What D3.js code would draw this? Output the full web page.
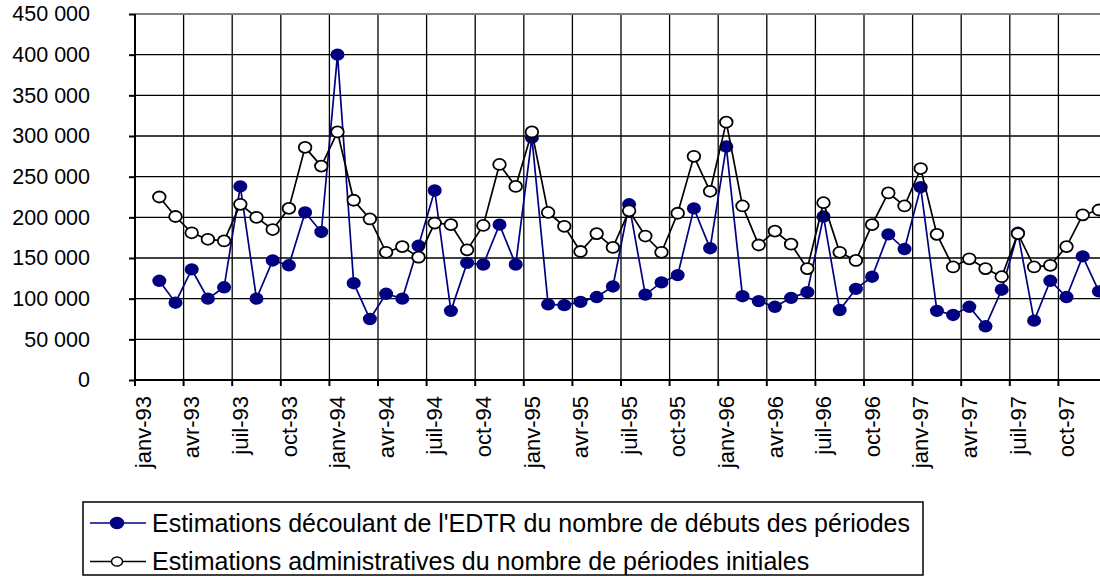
<!DOCTYPE html>
<html>
<head>
<meta charset="utf-8">
<script src="https://cdn.jsdelivr.net/npm/d3@7"></script>
<style>
  body { margin: 0; background: #fff; }
  svg { display: block; font-family: "Liberation Sans", Arial, sans-serif; }
  .grid line { stroke: #000; stroke-width: 1.3; }
</style>
</head>
<body>
<div id="chart"></div>
<script>
const years = ['93', '94', '95', '96', '97'];
const monthNames = ['janv', 'févr', 'mars', 'avr', 'mai', 'juin', 'juil', 'août', 'sept', 'oct', 'nov', 'déc'];
const categories = years.flatMap(y => monthNames.map(m => `${m}-${y}`));
const tickLabels = categories.filter((c, i) => i % 3 === 0);

// EDTR estimates (janv-93 has no value)
const edtrValues = [
  null, 122000, 95000, 136000, 100000, 114000, 238000, 100000, 147000, 141000, 206000, 182000,
  400000, 119000, 75000, 106000, 100000, 165000, 233000, 85000, 144000, 142000, 191000, 142000,
  298000, 93000, 92000, 96000, 102000, 115000, 216000, 105000, 120000, 129000, 211000, 162000,
  287000, 103000, 97000, 90000, 101000, 108000, 201000, 86000, 112000, 127000, 179000, 161000,
  237000, 85000, 80000, 90000, 66000, 111000, 181000, 73000, 122000, 102000, 152000, 109000
];
// administrative estimates
const adminValues = [
  null, 225000, 201000, 181000, 173000, 171000, 216000, 200000, 185000, 211000, 286000, 263000,
  305000, 221000, 198000, 157000, 164000, 151000, 193000, 191000, 160000, 190000, 265000, 238000,
  305000, 206000, 189000, 158000, 180000, 163000, 208000, 177000, 157000, 205000, 275000, 232000,
  317000, 214000, 166000, 183000, 167000, 137000, 218000, 157000, 147000, 191000, 230000, 214000,
  260000, 179000, 139000, 149000, 137000, 127000, 180000, 139000, 141000, 164000, 203000, 209000
];
const yTicks = [0, 50000, 100000, 150000, 200000, 250000, 300000, 350000, 400000, 450000];
const seriesNames = [
  "Estimations découlant de l'EDTR du nombre de débuts des périodes",
  "Estimations administratives du nombre de périodes initiales"
];

const W = 1100, H = 577;
const plot = { left: 135, top: 14, bottom: 380, right: 1107 };

const svg = d3.select('#chart').append('svg')
  .attr('width', W)
  .attr('height', H);

const x = d3.scaleBand()
  .domain(categories)
  .range([plot.left, plot.right]);
const cx = c => x(c) + x.bandwidth() / 2;

const y = d3.scaleLinear()
  .domain([0, 450000])
  .range([plot.bottom, plot.top]);

const fmt = v => d3.format(',')(v).replace(/,/g, ' ');

// horizontal gridlines
svg.append('g')
  .attr('class', 'grid')
  .selectAll('line')
  .data(yTicks.filter(v => v > 0 && v < 450000))
  .join('line')
  .attr('x1', plot.left).attr('x2', W)
  .attr('y1', d => y(d)).attr('y2', d => y(d));

// vertical gridlines every quarter
svg.append('g')
  .attr('class', 'grid')
  .selectAll('line')
  .data(tickLabels.slice(1))
  .join('line')
  .attr('x1', d => x(d)).attr('x2', d => x(d))
  .attr('y1', plot.top).attr('y2', plot.bottom);

// top border
svg.append('line')
  .attr('x1', plot.left).attr('x2', W)
  .attr('y1', y(450000)).attr('y2', y(450000))
  .attr('stroke', '#808080').attr('stroke-width', 2);

// y axis
const yAxis = svg.append('g')
  .attr('transform', `translate(${plot.left},0)`)
  .call(d3.axisLeft(y).tickValues(yTicks).tickFormat(fmt).tickSize(6).tickPadding(39));
yAxis.select('.domain').attr('stroke', '#000').attr('stroke-width', 2).attr('d', `M0,${plot.top}V${plot.bottom}`);
yAxis.selectAll('.tick line').attr('stroke', '#000').attr('stroke-width', 2);
yAxis.selectAll('.tick text')
  .attr('font-size', 21.5)
  .attr('font-family', '"Liberation Sans", Arial, sans-serif')
  .attr('fill', '#000');

// x axis
const xAxis = svg.append('g')
  .attr('transform', `translate(0,${plot.bottom})`);
xAxis.append('line')
  .attr('x1', plot.left).attr('x2', W)
  .attr('stroke', '#000').attr('stroke-width', 2);
xAxis.selectAll('.xtick')
  .data(tickLabels)
  .join('line')
  .attr('x1', d => x(d)).attr('x2', d => x(d))
  .attr('y1', 0).attr('y2', 6)
  .attr('stroke', '#000').attr('stroke-width', 2);
xAxis.selectAll('.xlabel')
  .data(tickLabels)
  .join('text')
  .attr('transform', d => `translate(${cx(d)},16) rotate(-90)`)
  .attr('text-anchor', 'end')
  .attr('dy', '0.35em')
  .attr('font-size', 22)
  .attr('fill', '#000')
  .text(d => d);

// series
const lineGen = d3.line()
  .defined(d => d.v != null)
  .x(d => cx(d.c))
  .y(d => y(d.v));

const edtr = categories.map((c, i) => ({ c, v: edtrValues[i] }));
const admin = categories.map((c, i) => ({ c, v: adminValues[i] }));

svg.append('path')
  .datum(edtr)
  .attr('d', lineGen)
  .attr('fill', 'none')
  .attr('stroke', '#000080')
  .attr('stroke-width', 1.7);
svg.append('g')
  .selectAll('ellipse')
  .data(edtr.filter(d => d.v != null))
  .join('ellipse')
  .attr('cx', d => cx(d.c))
  .attr('cy', d => y(d.v))
  .attr('rx', 7)
  .attr('ry', 6.2)
  .attr('fill', '#000080');

svg.append('path')
  .datum(admin)
  .attr('d', lineGen)
  .attr('fill', 'none')
  .attr('stroke', '#000')
  .attr('stroke-width', 1.7);
svg.append('g')
  .selectAll('ellipse')
  .data(admin.filter(d => d.v != null))
  .join('ellipse')
  .attr('cx', d => cx(d.c))
  .attr('cy', d => y(d.v))
  .attr('rx', 6.3)
  .attr('ry', 5.5)
  .attr('fill', '#fff')
  .attr('stroke', '#000')
  .attr('stroke-width', 1.8);

// legend
const legend = svg.append('g');
legend.append('rect')
  .attr('x', 83).attr('y', 502)
  .attr('width', 840).attr('height', 73)
  .attr('fill', '#fff')
  .attr('stroke', '#000').attr('stroke-width', 1.5);

const legendItems = [
  { name: seriesNames[0], color: '#000080', fill: '#000080', rx: 6.5, ry: 5.5 },
  { name: seriesNames[1], color: '#000', fill: '#fff', rx: 5.5, ry: 4.6 }
];
legendItems.forEach((d, i) => {
  const ly = 523 + i * 38.5;
  legend.append('line')
    .attr('x1', 90).attr('x2', 146)
    .attr('y1', ly).attr('y2', ly)
    .attr('stroke', d.color).attr('stroke-width', 1.7);
  legend.append('ellipse')
    .attr('cx', 117).attr('cy', ly).attr('rx', d.rx).attr('ry', d.ry)
    .attr('fill', d.fill)
    .attr('stroke', d.color).attr('stroke-width', 1.5);
  legend.append('text')
    .attr('x', 152).attr('y', ly)
    .attr('dy', '0.35em')
    .attr('font-size', 25)
    .attr('fill', '#000')
    .text(d.name);
});
</script>
</body>
</html>
